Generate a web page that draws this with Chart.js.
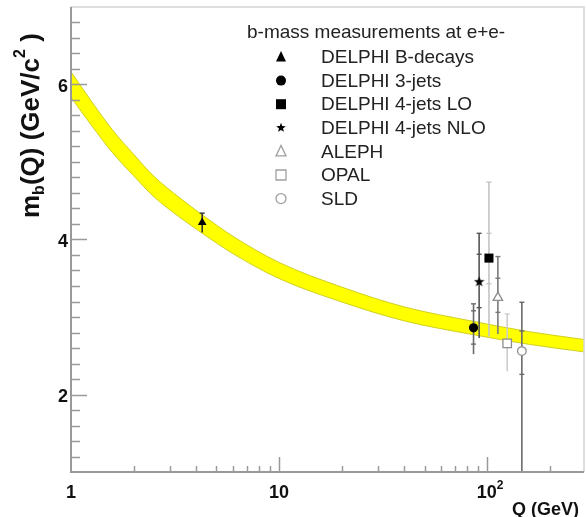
<!DOCTYPE html>
<html>
<head>
<meta charset="utf-8">
<script src="https://cdn.jsdelivr.net/npm/chart.js@4.4.0/dist/chart.umd.min.js"></script>
<style>
  html, body { margin: 0; padding: 0; background: #fff; }
  canvas { display: block; }
</style>
</head>
<body>
<canvas id="massChart" width="586" height="517"></canvas>
<script>
// --- running b-quark mass band ---
const bandQ    = [1, 1.26, 1.58, 2, 2.51, 3.34, 4.27, 6, 10, 20, 40, 85, 158, 292];
const bandLow  = [5.835, 5.465, 5.123, 4.821, 4.548, 4.285, 4.081, 3.818, 3.496, 3.194, 2.950, 2.774, 2.648, 2.550];
const bandHigh = [6.165, 5.775, 5.417, 5.099, 4.812, 4.535, 4.319, 4.042, 3.704, 3.386, 3.130, 2.946, 2.812, 2.710];

// --- measurements ---
const seriesNames = ['DELPHI B-decays', 'DELPHI 3-jets', 'DELPHI 4-jets LO', 'DELPHI 4-jets NLO', 'ALEPH', 'OPAL', 'SLD'];
const qValues  = [4.27, 86, 102, 91.5, 112.6, 124.8, 146.8];
const mValues  = [4.22, 2.86, 3.76, 3.46, 3.25, 2.66, 2.56];
const errLow   = [4.09, 2.52, 2.75, 2.73, 2.78, 2.30, 0.50];
const errHigh  = [4.34, 3.17, 4.74, 4.08, 3.78, 3.04, 3.19];
const statLow  = [null, 2.65, 3.43, 3.12, 3.06, null, 2.26];
const statHigh = [null, 3.08, 4.08, 3.81, 3.50, null, 2.82];

// --- axis ticks ---
const xMajorTicks = [10, 100];
const xMinorTicks = [2, 3, 4, 5, 6, 7, 8, 9, 20, 30, 40, 50, 60, 70, 80, 90, 200];
const xTickLabels = [[1, '1', ''], [10, '10', ''], [100, '10', '2']];
const yMajorTicks = [2, 4, 6];
const yTickLabels = ['2', '4', '6'];
const legendTitle = 'b-mass measurements at e+e-';

// styles per measurement
const markerStyle  = ['triangle', 'circle', 'rect', 'star', 'triangle', 'rect', 'circle'];
const markerFilled = [true, true, true, true, false, false, false];
const markerColor  = ['#000', '#000', '#000', '#000', '#8c8c8c', '#8c8c8c', '#8c8c8c'];
const markerRadius = [5, 4.6, 6.4, 6, 5.5, 6, 4.3];
const barColor     = ['#333', '#6a6a6a', '#c4c4c4', '#555', '#7a7a7a', '#cdcdcd', '#6a6a6a'];

const FONT = '"Liberation Sans", Arial, Helvetica, sans-serif';

// filled five point star (chart.js 'star' is only strokes)
function makeStar(size, color) {
  const c = document.createElement('canvas');
  c.width = c.height = size;
  const g = c.getContext('2d');
  g.fillStyle = color;
  g.beginPath();
  for (let i = 0; i < 10; i++) {
    const r = i % 2 ? size * 0.21 : size * 0.5;
    const ang = -Math.PI / 2 + i * Math.PI / 5;
    g.lineTo(size / 2 + r * Math.cos(ang), size / 2 + 0.5 + r * Math.sin(ang));
  }
  g.closePath();
  g.fill();
  return c;
}
const starImg = makeStar(11, '#000');

// --- datasets ---
const datasets = [];
datasets.push({
  data: bandQ.map((q, i) => ({ x: q, y: bandLow[i] })),
  showLine: true, fill: false, pointRadius: 0,
  borderColor: '#cfcf20', borderWidth: 1,
  cubicInterpolationMode: 'monotone', order: 10
});
datasets.push({
  data: bandQ.map((q, i) => ({ x: q, y: bandHigh[i] })),
  showLine: true, fill: '-1', pointRadius: 0,
  borderColor: '#cfcf20', borderWidth: 1, backgroundColor: '#ffff00',
  cubicInterpolationMode: 'monotone', order: 10
});

qValues.forEach((q, i) => {
  // total error bar
  datasets.push({
    data: [{ x: q, y: errLow[i] }, { x: q, y: errHigh[i] }],
    showLine: true, pointRadius: 0, borderColor: barColor[i], borderWidth: 1.6, order: 5
  });
  // end cap + stat ticks
  const caps = [{ x: q, y: errHigh[i] }];
  if (statLow[i] !== null) caps.push({ x: q, y: statLow[i] }, { x: q, y: statHigh[i] });
  datasets.push({
    data: caps, pointStyle: 'line', pointRadius: 2.5,
    borderColor: barColor[i], borderWidth: 1.4, order: 4
  });
  // marker
  datasets.push({
    label: seriesNames[i],
    data: [{ x: q, y: mValues[i] }],
    pointStyle: markerStyle[i] === 'star' ? starImg : markerStyle[i],
    pointRadius: markerRadius[i],
    backgroundColor: markerFilled[i] ? markerColor[i] : '#fff',
    borderColor: markerColor[i],
    borderWidth: markerFilled[i] ? 0 : 1.3,
    order: 0
  });
});

// --- legend markers drawn by hand ---
function drawMarker(ctx, style, cx, cy, s, filled, color) {
  ctx.beginPath();
  if (style === 'triangle') {
    ctx.moveTo(cx, cy - s * 0.6);
    ctx.lineTo(cx + s * 0.5, cy + s * 0.45);
    ctx.lineTo(cx - s * 0.5, cy + s * 0.45);
    ctx.closePath();
  } else if (style === 'circle') {
    ctx.arc(cx, cy, s / 2, 0, Math.PI * 2);
  } else if (style === 'rect') {
    ctx.rect(cx - s / 2, cy - s / 2, s, s);
  } else if (style === 'star') {
    for (let i = 0; i < 10; i++) {
      const r = i % 2 ? s * 0.21 : s * 0.5;
      const ang = -Math.PI / 2 + i * Math.PI / 5;
      ctx.lineTo(cx + r * Math.cos(ang), cy + r * Math.sin(ang));
    }
    ctx.closePath();
  }
  if (filled) {
    ctx.fillStyle = color;
    ctx.fill();
  } else {
    ctx.strokeStyle = color;
    ctx.lineWidth = 1.3;
    ctx.stroke();
  }
}

const decorPlugin = {
  id: 'decor',
  afterDraw(chart) {
    const { ctx, chartArea: a, scales: { x, y } } = chart;
    ctx.save();

    // frame
    ctx.strokeStyle = '#d4d4d4';
    ctx.lineWidth = 1.5;
    ctx.beginPath();
    ctx.moveTo(a.left, a.top); ctx.lineTo(a.right, a.top); ctx.lineTo(a.right, a.bottom);
    ctx.stroke();
    ctx.strokeStyle = '#999';
    ctx.lineWidth = 2;
    ctx.beginPath();
    ctx.moveTo(a.left, a.top); ctx.lineTo(a.left, a.bottom); ctx.lineTo(a.right, a.bottom);
    ctx.stroke();

    // ticks
    ctx.strokeStyle = '#9a9a9a';
    ctx.lineWidth = 1.5;
    ctx.beginPath();
    for (let v = 1.2; v < 6.95; v += 0.2) {
      const py = Math.round(y.getPixelForValue(v)) + 0.5;
      const major = yMajorTicks.some(t => Math.abs(t - v) < 0.01);
      ctx.moveTo(a.left, py); ctx.lineTo(a.left + (major ? 16 : 9), py);
    }
    xMinorTicks.forEach(v => {
      const px = Math.round(x.getPixelForValue(v)) + 0.5;
      ctx.moveTo(px, a.bottom); ctx.lineTo(px, a.bottom - 6);
    });
    xMajorTicks.forEach(v => {
      const px = Math.round(x.getPixelForValue(v)) + 0.5;
      ctx.moveTo(px, a.bottom); ctx.lineTo(px, a.bottom - 15);
    });
    ctx.stroke();

    // tick labels
    ctx.fillStyle = '#111';
    ctx.font = 'bold 18px ' + FONT;
    ctx.textAlign = 'right';
    ctx.textBaseline = 'middle';
    yMajorTicks.forEach((v, i) => ctx.fillText(yTickLabels[i], a.left - 3, y.getPixelForValue(v) + 2.5));
    ctx.textBaseline = 'alphabetic';
    xTickLabels.forEach(([v, txt, sup]) => {
      ctx.font = 'bold 18px ' + FONT;
      const w = ctx.measureText(txt).width;
      ctx.font = 'bold 12px ' + FONT;
      const ws = sup ? ctx.measureText(sup).width : 0;
      const left = x.getPixelForValue(v) - (w + ws) / 2 + (sup ? 3 : 0);
      ctx.textAlign = 'left';
      ctx.font = 'bold 18px ' + FONT;
      ctx.fillText(txt, left, 498);
      if (sup) {
        ctx.font = 'bold 12px ' + FONT;
        ctx.fillText(sup, left + w, 489);
      }
    });

    // x title
    ctx.font = 'bold 18px ' + FONT;
    ctx.textAlign = 'left';
    ctx.fillText('Q (GeV)', 512, 515);

    // y title, rotated, with sub and superscript
    ctx.save();
    ctx.translate(39, 218);
    ctx.rotate(-Math.PI / 2);
    let cx = 0;
    const part = (txt, size, dy) => {
      ctx.font = 'bold ' + size + 'px ' + FONT;
      ctx.fillText(txt, cx, dy);
      cx += ctx.measureText(txt).width;
    };
    part('m', 26, 0);
    part('b', 16, 5);
    part('(Q) (GeV/c', 26, 0);
    part('2', 16, -14);
    part(' )', 26, 0);
    ctx.restore();

    // legend
    ctx.fillStyle = '#222';
    ctx.font = '19px ' + FONT;
    ctx.textBaseline = 'middle';
    ctx.fillText(legendTitle, 247, 33);
    seriesNames.forEach((name, i) => {
      const ly = 57 + i * 23.6;
      const col = markerFilled[i] ? '#000' : '#a0a0a0';
      drawMarker(ctx, markerStyle[i], 281, ly, 10, markerFilled[i], col);
      ctx.fillStyle = '#222';
      ctx.fillText(name, 321, ly + 1);
    });

    ctx.restore();
  }
};

new Chart(document.getElementById('massChart'), {
  type: 'scatter',
  data: { datasets },
  options: {
    responsive: false,
    animation: false,
    layout: { autoPadding: false, padding: { left: 71, right: 2, top: 7, bottom: 45 } },
    scales: {
      x: { type: 'logarithmic', min: 1, max: 292, display: false },
      y: { type: 'linear', min: 1, max: 7, display: false }
    },
    plugins: {
      legend: { display: false },
      tooltip: { enabled: false }
    }
  },
  plugins: [decorPlugin]
});
</script>
</body>
</html>
